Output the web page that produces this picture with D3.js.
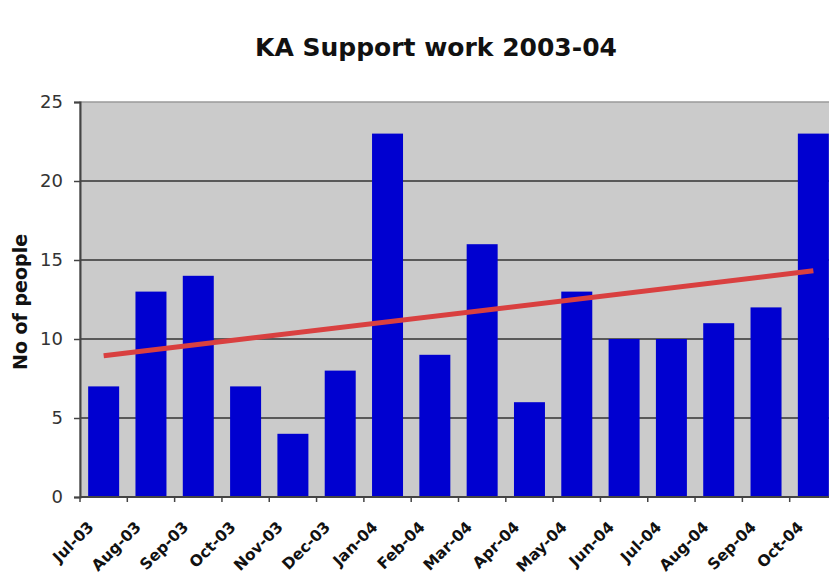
<!DOCTYPE html>
<html><head><meta charset="utf-8">
<script src="https://cdn.jsdelivr.net/npm/d3@7"></script>
<style>body{margin:0;background:#fff;overflow:hidden}svg{display:block}</style>
</head><body>
<svg id="c" width="829" height="580"></svg>
<script>
const categories = ["Jul-03","Aug-03","Sep-03","Oct-03","Nov-03","Dec-03","Jan-04","Feb-04","Mar-04","Apr-04","May-04","Jun-04","Jul-04","Aug-04","Sep-04","Oct-04"];
const values = [7,13,14,7,4,8,23,9,16,6,13,10,10,11,12,23];
const yTicks = [0,5,10,15,20,25];

(function(){
const svg = d3.select("#c");
const mL = 80, mT = 102, plotW = 757, plotH = 395;
const font = "Verdana, DejaVu Sans, sans-serif";
const x = d3.scaleBand().domain(categories).range([mL, mL + plotW]).paddingInner(0.345).paddingOuter(0.1725);
const xb = d3.scaleBand().domain(categories).range([mL, mL + plotW]);
const y = d3.scaleLinear().domain([0,25]).range([mT + plotH, mT]);

svg.append("rect").attr("x", mL).attr("y", mT).attr("width", plotW).attr("height", plotH)
  .attr("fill", "#cbcbcb").attr("stroke", "#9a9a9a").attr("stroke-width", 1.5);

svg.append("g").selectAll("line").data(yTicks.filter(d => d > 0 && d < 25)).join("line")
  .attr("x1", mL).attr("x2", mL + plotW).attr("y1", d => y(d)).attr("y2", d => y(d))
  .attr("stroke", "#333").attr("stroke-width", 1.5);

svg.append("g").selectAll("rect").data(values).join("rect")
  .attr("x", (d,i) => x(categories[i])).attr("width", x.bandwidth())
  .attr("y", d => y(d)).attr("height", d => y(0) - y(d)).attr("fill", "#0000d0");

// linear trend line
const n = values.length, mx = (n-1)/2, my = d3.mean(values);
let sxy = 0, sxx = 0;
values.forEach((v,i) => { sxy += (i-mx)*(v-my); sxx += (i-mx)*(i-mx); });
const slope = sxy/sxx, icpt = my - slope*mx;
const cx = i => xb(categories[i]) + xb.bandwidth()/2;
svg.append("line").attr("x1", cx(0)).attr("y1", y(icpt)).attr("x2", cx(n-1)).attr("y2", y(icpt + slope*(n-1)))
  .attr("stroke", "#d94040").attr("stroke-width", 5);

// axes
const yAxis = d3.axisLeft(y).tickValues(yTicks).tickSize(6).tickPadding(11);
const gy = svg.append("g").attr("transform", `translate(${mL},0)`).call(yAxis);
gy.select(".domain").attr("stroke", "#444").attr("stroke-width", 2);
gy.selectAll(".tick line").attr("stroke", "#444").attr("stroke-width", 1.5);
gy.selectAll("text").attr("font-family", font).attr("font-size", 18).attr("fill", "#333");

const gx = svg.append("g").attr("transform", `translate(0,${mT + plotH})`);
gx.append("line").attr("x1", mL).attr("x2", mL + plotW).attr("stroke", "#444").attr("stroke-width", 2);
gx.selectAll("line.t").data(categories).join("line").attr("class","t")
  .attr("x1", d => xb(d)).attr("x2", d => xb(d)).attr("y1", 0).attr("y2", 5).attr("stroke", "#444").attr("stroke-width", 1.5);
gx.selectAll("text").data(categories).join("text")
  .attr("transform", d => `translate(${xb(d) + xb.bandwidth()/2 - 9},${31}) rotate(-45)`)
  .attr("text-anchor", "end")
  .attr("font-family", font).attr("font-weight", "bold").attr("font-size", 15.5).attr("fill", "#111")
  .text(d => d);

svg.append("text").attr("x", 436).attr("y", 56).attr("text-anchor", "middle")
  .attr("font-family", font).attr("font-weight", "bold").attr("font-size", 25).attr("fill", "#111")
  .text("KA Support work 2003-04");

svg.append("text").attr("transform", "translate(27,302) rotate(-90)").attr("text-anchor", "middle")
  .attr("font-family", font).attr("font-weight", "bold").attr("font-size", 19).attr("fill", "#111")
  .text("No of people");
})();
</script>
</body></html>
